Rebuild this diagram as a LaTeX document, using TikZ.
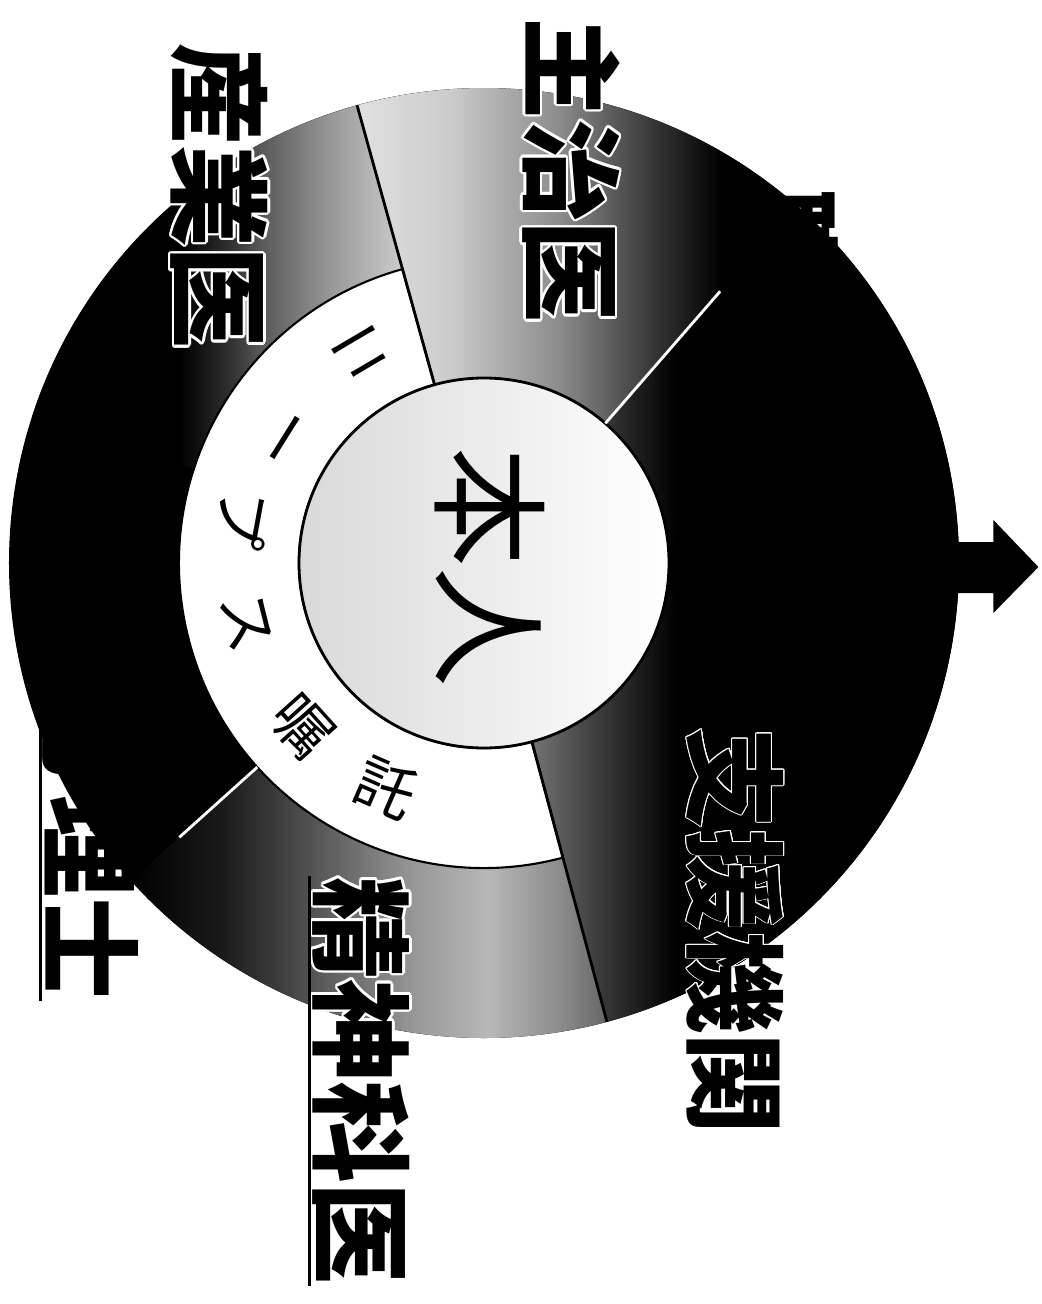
\documentclass[tikz,border=0pt]{standalone}
\usepackage{fontspec}
\usepackage{contour}
\usetikzlibrary{calc}
\newfontfamily\jp{Noto Sans CJK JP}
\contourlength{0.7pt}

% shadings for the ring parts (bounding box of a part = 25bp..75bp)
\pgfdeclarehorizontalshading{shujiishade}{100bp}{color(0bp)=(black!12); color(25bp)=(black!12); color(35.5bp)=(black!20); color(48bp)=(black!45); color(58.5bp)=(black!78); color(66.5bp)=(black); color(100bp)=(black)}
\pgfdeclarehorizontalshading{sangyoshade}{100bp}{color(0bp)=(black); color(45bp)=(black); color(52bp)=(black!80); color(56bp)=(black!65); color(65.5bp)=(black!40); color(75bp)=(black!20); color(100bp)=(black!20)}
\pgfdeclarehorizontalshading{seishinshade}{100bp}{color(0bp)=(black); color(25bp)=(black); color(34.5bp)=(black!90); color(43bp)=(black!70); color(55bp)=(black!40); color(62.5bp)=(black!28); color(70bp)=(black!45); color(75bp)=(black!60); color(100bp)=(black!60)}
\pgfdeclarehorizontalshading{kikanshade}{100bp}{color(0bp)=(black!55); color(25bp)=(black!55); color(33bp)=(black!80); color(40bp)=(black); color(100bp)=(black)}

% one part of a ring: options, start angle, end angle, inner radius, outer radius
\newcommand{\ringsector}[5]{\path[#1] (#2:#4) arc[start angle=#2, end angle=#3, radius=#4] -- (#3:#5) arc[start angle=#3, end angle=#2, radius=#5] -- cycle;}

\begin{document}
\begin{tikzpicture}
  \tikzset{
    lbl/.style={font=\jp\bfseries\fontsize{29}{29}\selectfont, rotate=-90, inner sep=0pt},
    ring/.style={font=\jp\fontsize{17}{17}\selectfont, inner sep=0pt},
    cut/.style={line width=0.8pt}
  }
  \useasboundingbox (-4.84,-7.41) rectangle (5.58,5.63);
  \fill[white] (-4.84,-7.41) rectangle (5.58,5.63);

  % outer ring (black disk below, shaded parts on top)
  \fill (0,0) circle[radius=4.75];
  \ringsector{shade, shading=sangyoshade}{105.5}{162}{3.05}{4.75}
  \ringsector{shade, shading=shujiishade}{49}{105.5}{1.85}{4.75}
  \ringsector{shade, shading=kikanshade}{-75}{49}{1.85}{4.75}
  \ringsector{shade, shading=seishinshade}{222}{285}{3.05}{4.75}
  % white band
  \ringsector{fill=white, draw=black, line width=0.6pt}{105.5}{285}{1.85}{3.05}

  % centre
  \node[circle, draw, line width=0.8pt, minimum size=3.7cm, inner sep=0pt,
        left color=black!15, right color=white] (hub) at (0,0) {};

  % borders between the parts
  \draw[cut, black] (105.5:1.85) -- (105.5:4.75);
  \draw[cut, black] (285:1.85) -- (285:4.75);
  \draw[cut, white] (49:1.85) -- (49:3.6);
  \draw[cut, white] (222:3.05) -- (222:4.1);

  % arrow out of the centre
  \fill (hub.east) ++(0,0.21) -- ++(3.23,0) -- ++(0,0.22) -- ++(0.45,-0.47)
        -- ++(-0.45,-0.46) -- ++(0,0.20) -- ++(-3.23,0) -- cycle;

  % labels
  \node[font=\jp\fontsize{34}{34}\selectfont, rotate=-90, inner sep=0pt] (self) at (0.06,-0.04) {本人};
  \node[lbl] (shujii)  at (0.86,3.93)   {\contour{white}{主治医}};
  \node[lbl] (sangyo)  at (-2.66,3.67)  {\contour{white}{産業医}};
  \node[lbl] (seishin) at (-1.24,-5.18) {\contour{white}{精神科医}};
  \node[lbl] (kikan)   at (2.51,-3.68)  {\contourlength{0.25pt}\contour{white}{支援機関}};
  \node[lbl] (shinri)  at (-3.94,-1.82) {臨床心理士};
  \node[lbl] (shokuba) at (3.06,2.73)   {職場};
  \draw[line width=0.9pt] (seishin.south west) -- (seishin.south east);
  \draw[line width=0.9pt] (shinri.south west) -- (shinri.south east);

  % text along the white band
  \foreach \a/\c [count=\i] in {120.5/ニ, 148/ー, 169.6/プ, 194/ス, 222/嘱, 246.5/託}
    \node[ring, rotate=\a+90] (ch\i) at (\a:2.45) {\c};
\end{tikzpicture}
\end{document}
